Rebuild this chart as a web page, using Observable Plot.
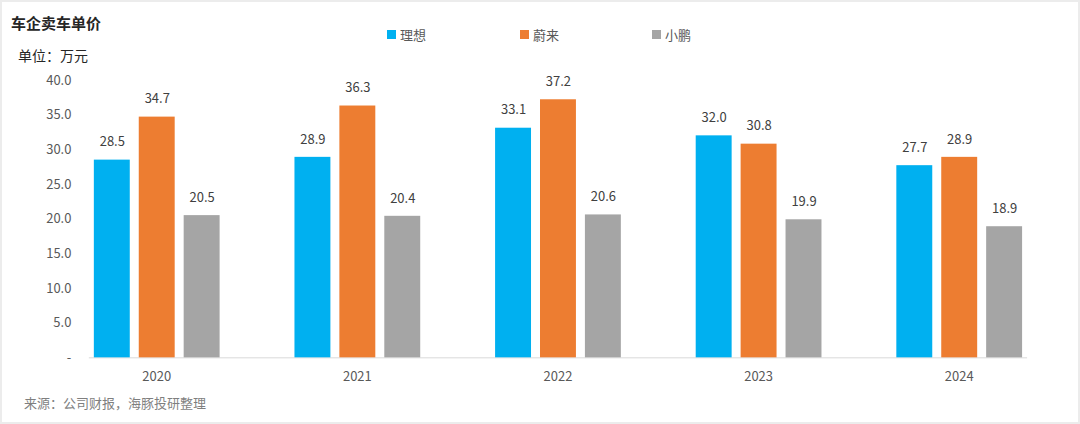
<!DOCTYPE html>
<html>
<head>
<meta charset="utf-8">
<script src="https://cdn.jsdelivr.net/npm/d3@7"></script>
<script src="https://cdn.jsdelivr.net/npm/@observablehq/plot@0.6"></script>
<style>
  html, body { margin: 0; padding: 0; background: #fff; }
  #wrap { position: relative; width: 1080px; height: 424px; overflow: hidden; box-sizing: border-box; border: 2px solid #ececec; font-family: "Microsoft YaHei", "Noto Sans CJK SC", "Noto Sans", sans-serif; }
  #chart { position: absolute; left: -2px; top: -2px; }
  .t { position: absolute; white-space: nowrap; }
  #title { left: 9px; top: 10px; font-size: 15px; font-weight: bold; color: #262626; }
  #unit { left: 16px; top: 43px; font-size: 14px; color: #262626; }
  #legend { left: 385px; top: 23px; font-size: 13px; color: #595959; }
  .li { position: absolute; top: 0; display: flex; align-items: center; }
  .sw { width: 9px; height: 9px; margin-right: 4px; }
  #source { left: 22px; top: 391px; font-size: 13px; color: #7f7f7f; }
</style>
</head>
<body>
<div id="wrap">
  <div id="chart"></div>
  <div class="t" id="title">车企卖车单价</div>
  <div class="t" id="unit">单位：万元</div>
  <div class="t" id="legend"></div>
  <div class="t" id="source">来源：公司财报，海豚投研整理</div>
</div>
<script>
const years = ["2020", "2021", "2022", "2023", "2024"];
const series = ["理想", "蔚来", "小鹏"];
const colors = ["#00B0F0", "#ED7D31", "#A5A5A5"];
const liXiang = [28.5, 28.9, 33.1, 32.0, 27.7];
const nio = [34.7, 36.3, 37.2, 30.8, 28.9];
const xpeng = [20.5, 20.4, 20.6, 19.9, 18.9];
const yTicks = [0, 5, 10, 15, 20, 25, 30, 35, 40];

const valuesBySeries = [liXiang, nio, xpeng];
const data = [];
years.forEach((y, i) => {
  series.forEach((s, j) => data.push({year: y, series: s, value: valuesBySeries[j][i]}));
});

const font = "'Microsoft YaHei', 'Noto Sans CJK SC', 'Noto Sans', sans-serif";

const chart = Plot.plot({
  width: 1080,
  height: 424,
  marginTop: 80,
  marginBottom: 66,
  marginLeft: 54,
  marginRight: 17,
  style: {fontFamily: font, fontSize: "13px", color: "#595959", background: "transparent"},
  fx: {domain: years, paddingInner: 0.33, paddingOuter: 0.165, label: null, axis: "bottom", tickSize: 0, tickPadding: 14},
  x: {domain: series, paddingInner: 0.2, paddingOuter: 0.1, axis: null},
  y: {domain: [0, 40], ticks: yTicks, label: null, tickSize: 0, tickPadding: 18,
      tickFormat: d => d === 0 ? "-" : d.toFixed(1)},
  color: {domain: series, range: colors},
  marks: [
    Plot.frame({anchor: "bottom", facet: "super", stroke: "#d9d9d9", strokeWidth: 1}),
    Plot.barY(data, {fx: "year", x: "series", y: "value", fill: "series"}),
    Plot.text(data, {fx: "year", x: "series", y: "value", text: d => d.value.toFixed(1), dy: -18, fill: "#404040", fontSize: 13})
  ]
});
document.getElementById("chart").appendChild(chart);

const legend = document.getElementById("legend");
const legendX = [0, 133, 265];
series.forEach((s, i) => {
  const item = document.createElement("div");
  item.className = "li";
  item.style.left = legendX[i] + "px";
  const sw = document.createElement("span");
  sw.className = "sw";
  sw.style.background = colors[i];
  const tx = document.createElement("span");
  tx.textContent = s;
  item.appendChild(sw);
  item.appendChild(tx);
  legend.appendChild(item);
});
</script>
</body>
</html>
